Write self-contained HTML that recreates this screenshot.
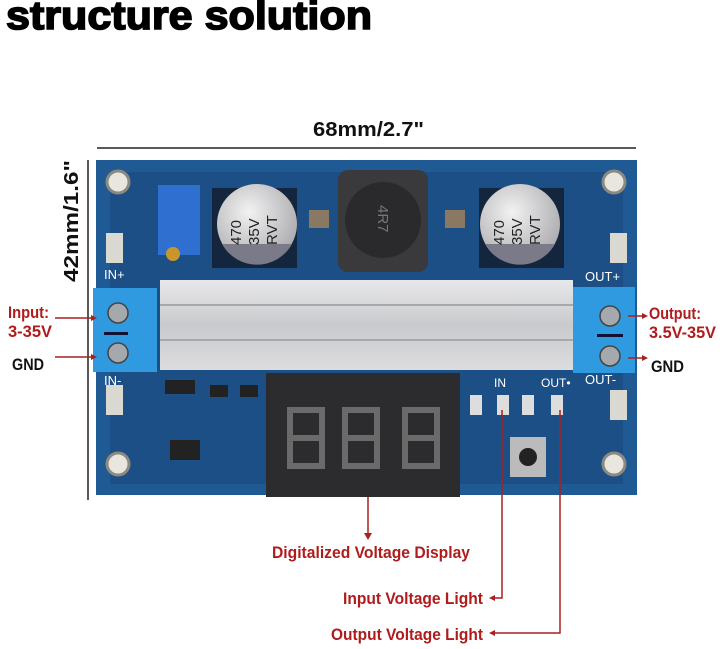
<!DOCTYPE html>
<html><head><meta charset="utf-8"><style>
html,body{margin:0;padding:0;background:#fff;}
body{width:720px;height:649px;overflow:hidden;position:relative;}
svg{position:absolute;left:0;top:0;}
.t{font-family:"Liberation Sans",sans-serif;font-weight:bold;}
</style></head><body>
<svg width="720" height="649" viewBox="0 0 720 649" xmlns="http://www.w3.org/2000/svg">
<defs>
<linearGradient id="hs" x1="0" y1="0" x2="0" y2="1">
<stop offset="0" stop-color="#e8e8ea"/><stop offset="0.5" stop-color="#c9cacd"/><stop offset="1" stop-color="#dcdcdf"/>
</linearGradient>
<radialGradient id="cap" cx="0.4" cy="0.35" r="0.7">
<stop offset="0" stop-color="#f2f2f2"/><stop offset="1" stop-color="#a9a9ad"/>
</radialGradient>
</defs>
<text x="6" y="29" font-family="Liberation Sans,sans-serif" font-weight="bold" font-size="40" fill="#000" stroke="#000" stroke-width="1.6" textLength="366" lengthAdjust="spacingAndGlyphs">structure solution</text>
<text x="313" y="136" class="t" font-size="20" fill="#111" textLength="111" lengthAdjust="spacingAndGlyphs">68mm/2.7"</text>
<line x1="97" y1="148" x2="636" y2="148" stroke="#222" stroke-width="1.5"/>
<line x1="88" y1="160" x2="88" y2="500" stroke="#222" stroke-width="1.5"/>
<text transform="translate(78,282) rotate(-90)" class="t" font-size="20" fill="#111" textLength="122" lengthAdjust="spacingAndGlyphs">42mm/1.6"</text>

<!-- board -->
<rect x="96" y="160" width="541" height="335" fill="#1f5a94"/>
<rect x="110" y="172" width="513" height="312" fill="#1c4f86"/>
<g fill="#e8e6df" stroke="#8a8a80" stroke-width="3">
<circle cx="118" cy="182" r="11"/><circle cx="614" cy="182" r="11"/>
<circle cx="118" cy="464" r="11"/><circle cx="614" cy="464" r="11"/>
</g>
<g fill="#d9d9d2"><rect x="106" y="233" width="17" height="30"/><rect x="106" y="385" width="17" height="30"/>
<rect x="610" y="233" width="17" height="30"/><rect x="610" y="390" width="17" height="30"/></g>
<g fill="#fff" font-family="Liberation Sans,sans-serif" font-size="13">
<text x="104" y="279">IN+</text><text x="104" y="385">IN-</text>
<text x="585" y="281">OUT+</text><text x="585" y="384">OUT-</text>
<text x="494" y="387" font-size="12">IN</text><text x="541" y="387" font-size="12">OUT•</text>
</g>
<rect x="158" y="185" width="42" height="70" fill="#2e6fd0"/>
<circle cx="173" cy="254" r="7" fill="#c8962a"/>
<rect x="212" y="188" width="85" height="80" fill="#14263e"/>
<circle cx="257" cy="224" r="40" fill="url(#cap)"/>
<path d="M222 244 A40 40 0 0 0 292 244 Z" fill="#7a7a88"/>
<g font-family="Liberation Sans,sans-serif" font-size="15" fill="#222">
<text transform="translate(241,245) rotate(-90)">470</text>
<text transform="translate(259,245) rotate(-90)">35V</text>
<text transform="translate(277,245) rotate(-90)">RVT</text>
</g>
<rect x="479" y="188" width="85" height="80" fill="#14263e"/>
<circle cx="520" cy="224" r="40" fill="url(#cap)"/>
<path d="M485 244 A40 40 0 0 0 555 244 Z" fill="#7a7a88"/>
<g font-family="Liberation Sans,sans-serif" font-size="15" fill="#222">
<text transform="translate(504,245) rotate(-90)">470</text>
<text transform="translate(522,245) rotate(-90)">35V</text>
<text transform="translate(540,245) rotate(-90)">RVT</text>
</g>
<rect x="338" y="170" width="90" height="102" rx="10" fill="#3a3a3c"/>
<circle cx="383" cy="220" r="38" fill="#2a2a2c"/>
<text transform="translate(378,205) rotate(90)" font-family="Liberation Sans,sans-serif" font-size="15" fill="#777">4R7</text>
<rect x="309" y="210" width="20" height="18" fill="#8a7862"/><rect x="445" y="210" width="20" height="18" fill="#8a7862"/>
<rect x="160" y="280" width="413" height="90" fill="url(#hs)"/>
<line x1="160" y1="305" x2="573" y2="305" stroke="#a8a8ac" stroke-width="2"/>
<line x1="160" y1="340" x2="573" y2="340" stroke="#a8a8ac" stroke-width="2"/>
<rect x="93" y="288" width="64" height="84" fill="#2f9ae0"/>
<rect x="573" y="287" width="62" height="86" fill="#2f9ae0"/>
<g fill="#a5a8ad" stroke="#444" stroke-width="1.5">
<circle cx="118" cy="313" r="10"/><circle cx="118" cy="353" r="10"/>
<circle cx="610" cy="316" r="10"/><circle cx="610" cy="356" r="10"/></g>
<rect x="104" y="332" width="24" height="3" fill="#113"/><rect x="597" y="334" width="26" height="3" fill="#113"/>
<g fill="#222"><rect x="165" y="380" width="30" height="14"/><rect x="170" y="440" width="30" height="20"/>
<rect x="210" y="385" width="18" height="12"/><rect x="240" y="385" width="18" height="12"/></g>
<rect x="266" y="373" width="194" height="124" fill="#2c2c2e"/>
<g fill="none" stroke="#6a6a6a" stroke-width="6">
<rect x="290" y="410" width="32" height="56"/><rect x="345" y="410" width="32" height="56"/><rect x="405" y="410" width="32" height="56"/>
<line x1="290" y1="438" x2="322" y2="438"/><line x1="345" y1="438" x2="377" y2="438"/><line x1="405" y1="438" x2="437" y2="438"/></g>
<g fill="#ddd"><rect x="470" y="395" width="12" height="20"/><rect x="497" y="395" width="12" height="20"/><rect x="522" y="395" width="12" height="20"/><rect x="551" y="395" width="12" height="20"/></g>
<rect x="510" y="437" width="36" height="40" fill="#bbb"/><circle cx="528" cy="457" r="9" fill="#222"/>

<g stroke="#a82020" stroke-width="1.5" fill="none">
<line x1="368" y1="497" x2="368" y2="535"/>
<polyline points="502,410 502,598 492,598"/>
<polyline points="560,410 560,633 492,633"/>
<line x1="55" y1="318" x2="95" y2="318"/><line x1="55" y1="357" x2="95" y2="357"/>
<line x1="628" y1="316" x2="645" y2="316"/><line x1="628" y1="358" x2="645" y2="358"/>
</g>
<g fill="#a82020">
<polygon points="364,533 372,533 368,540"/>
<polygon points="489,598 495,595 495,601"/><polygon points="489,633 495,630 495,636"/>
<polygon points="97,318 91,315 91,321"/><polygon points="97,357 91,354 91,360"/>
<polygon points="648,316 642,313 642,319"/><polygon points="648,358 642,355 642,361"/>
</g>
<g class="t" font-size="17" fill="#b01c1c">
<text x="272" y="558" textLength="198" lengthAdjust="spacingAndGlyphs">Digitalized Voltage Display</text>
<text x="343" y="604" textLength="140" lengthAdjust="spacingAndGlyphs">Input Voltage Light</text>
<text x="331" y="640" textLength="152" lengthAdjust="spacingAndGlyphs">Output Voltage Light</text>
<text x="8" y="318" textLength="41" lengthAdjust="spacingAndGlyphs">Input:</text>
<text x="8" y="337" textLength="44" lengthAdjust="spacingAndGlyphs">3-35V</text>
<text x="649" y="319" textLength="52" lengthAdjust="spacingAndGlyphs">Output:</text>
<text x="649" y="338" textLength="67" lengthAdjust="spacingAndGlyphs">3.5V-35V</text>
</g>
<g class="t" font-size="17" fill="#111">
<text x="12" y="370" textLength="32" lengthAdjust="spacingAndGlyphs">GND</text>
<text x="651" y="372" textLength="33" lengthAdjust="spacingAndGlyphs">GND</text>
</g>
</svg>
</body></html>
